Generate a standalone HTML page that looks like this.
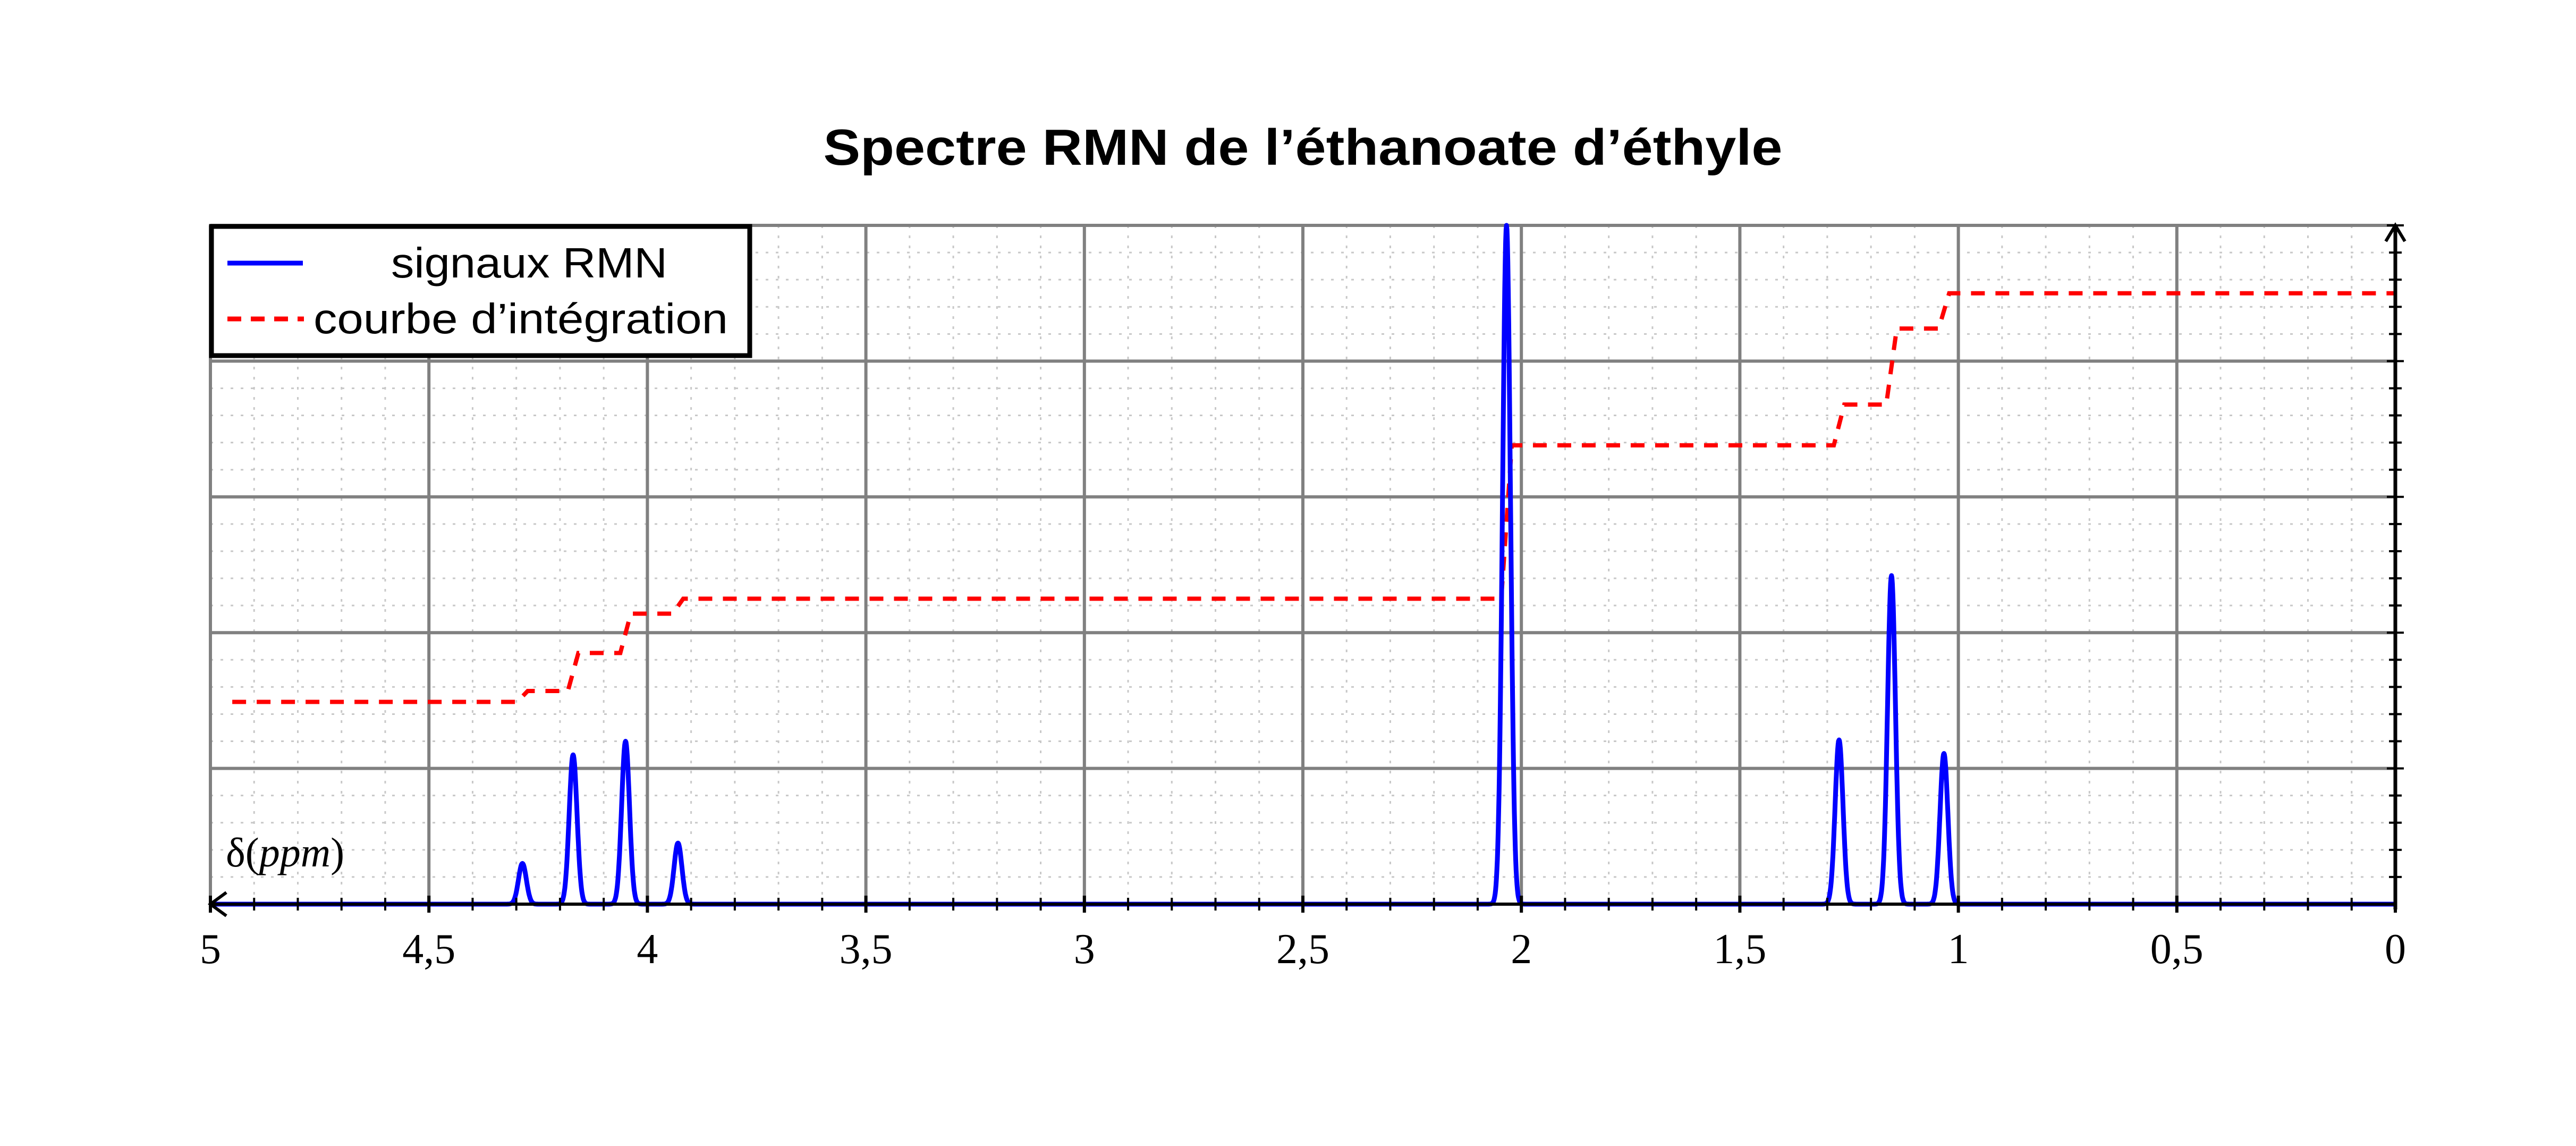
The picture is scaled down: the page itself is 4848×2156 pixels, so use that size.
<!DOCTYPE html>
<html><head><meta charset="utf-8"><style>
html,body{margin:0;padding:0;background:#fff;width:4848px;height:2156px;overflow:hidden}
svg{display:block}
</style></head><body>
<svg id="chart" width="4848" height="2156" viewBox="0 0 4848 2156" xmlns="http://www.w3.org/2000/svg">
<g id="grid"></g>
<g id="series"></g>
<g id="axes"></g>
<text x="2452" y="310" text-anchor="middle" font-family="Liberation Sans, sans-serif" font-weight="bold" font-size="96" textLength="1805" lengthAdjust="spacingAndGlyphs">Spectre RMN de l’éthanoate d’éthyle</text>
<text x="425" y="1630" font-family="Liberation Serif, serif" font-size="78">δ(<tspan font-style="italic">ppm</tspan>)</text>
<g>
<rect x="398" y="426" width="1013" height="243" fill="#fff" stroke="#000" stroke-width="9"/>
<line x1="428" y1="495" x2="570" y2="495" stroke="#0000ff" stroke-width="9"/>
<text x="996" y="522" text-anchor="middle" font-family="Liberation Sans, sans-serif" font-size="80" textLength="520" lengthAdjust="spacingAndGlyphs">signaux RMN</text>
<line x1="428" y1="600" x2="572" y2="600" stroke="#ff0000" stroke-width="9" stroke-dasharray="26,18"/>
<text x="590" y="627" font-family="Liberation Sans, sans-serif" font-size="80" textLength="780" lengthAdjust="spacingAndGlyphs">courbe d’intégration</text>
</g>
</svg>
<script>
// data
const peakPositions = [4.286, 4.17, 4.05, 3.93, 2.034, 1.273, 1.153, 1.033];
const peakHeights = [0.30, 1.10, 1.20, 0.45, 5.0, 1.21, 2.42, 1.11];
const integrationStart = 1.49;
const integrationLevels = [1.57, 1.85, 2.14, 2.25, 3.38, 3.68, 4.24, 4.50];
const xTickValues = [5, 4.5, 4, 3.5, 3, 2.5, 2, 1.5, 1, 0.5, 0];
const xTickLabels = ["5", "4,5", "4", "3,5", "3", "2,5", "2", "1,5", "1", "0,5", "0"];

const NS = "http://www.w3.org/2000/svg";
const L = 396, R = 4508, T = 424, B = 1701;
const xs = v => R - (v / 5) * (R - L);
const ys = v => B - (v / 5) * (B - T);
function mk(tag, attrs, parent) {
  const e = document.createElementNS(NS, tag);
  for (const k in attrs) e.setAttribute(k, attrs[k]);
  parent.appendChild(e);
  return e;
}
const grid = document.getElementById('grid');
const series = document.getElementById('series');
const axes = document.getElementById('axes');

for (let i = 0; i <= 50; i++) {
  if (i % 5 === 0) continue;
  const x = xs(i / 10);
  const l = mk('line', {x1: x, y1: T, x2: x, y2: B, stroke: '#c8c8c8', 'stroke-width': 3, 'stroke-dasharray': '5,14'}, grid);
  
  
}
for (let i = 0; i <= 25; i++) {
  if (i % 5 === 0) continue;
  const y = ys(i / 5);
  const l = mk('line', {x1: L, y1: y, x2: R, y2: y, stroke: '#c8c8c8', 'stroke-width': 3, 'stroke-dasharray': '5,14'}, grid);
  
  
}
for (let i = 0; i <= 10; i++) {
  const x = xs(i / 2);
  const l = mk('line', {x1: x, y1: T, x2: x, y2: B, stroke: '#808080', 'stroke-width': 6}, grid);
  
  
}
for (let i = 0; i <= 5; i++) {
  const y = ys(i);
  const l = mk('line', {x1: L, y1: y, x2: R, y2: y, stroke: '#808080', 'stroke-width': 6}, grid);
  
  
}

const half = 0.012;
let d = `M${xs(4.95)},${ys(integrationStart)}`;
let prev = integrationStart;
for (let i = 0; i < peakPositions.length; i++) {
  const p = peakPositions[i];
  d += ` L${xs(p + half)},${ys(prev)} L${xs(p - half)},${ys(integrationLevels[i])}`;
  prev = integrationLevels[i];
}
d += ` L${xs(0)},${ys(prev)}`;
const integ = mk('path', {d: d, fill: 'none', stroke: '#ff0000', 'stroke-width': 8, 'stroke-dasharray': '26,20'}, series);



const sigma = 0.009;
let pts = [];
for (let v = 5; v >= -0.00001; v -= 0.001) {
  let s = 0;
  for (let i = 0; i < peakPositions.length; i++) {
    const dd = (v - peakPositions[i]) / sigma;
    s += peakHeights[i] * Math.exp(-0.5 * dd * dd);
  }
  pts.push(xs(v).toFixed(1) + ',' + ys(Math.min(s, 5)).toFixed(1));
}
const spec = mk('polyline', {points: pts.join(' '), fill: 'none', stroke: '#0000ff', 'stroke-width': 9, 'stroke-linejoin': 'round'}, series);



const xa = mk('line', {x1: L, y1: B, x2: R, y2: B, stroke: '#000', 'stroke-width': 6}, axes);


const xarr = mk('path', {d: `M${L + 30},${B - 22} L${L},${B} L${L + 30},${B + 22}`, fill: 'none', stroke: '#000', 'stroke-width': 6}, axes);


const ya = mk('line', {x1: R, y1: B + 10, x2: R, y2: T, stroke: '#000', 'stroke-width': 7}, axes);


const yarr = mk('path', {d: `M${R - 18},${T + 30} L${R},${T} L${R + 18},${T + 30}`, fill: 'none', stroke: '#000', 'stroke-width': 6}, axes);


for (let i = 0; i <= 50; i++) {
  const x = xs(i / 10);
  const major = i % 5 === 0;
  const t = mk('line', {x1: x, y1: B - (major ? 16 : 12), x2: x, y2: B + (major ? 16 : 12), stroke: '#000', 'stroke-width': major ? 6 : 4}, axes);
  
  
}
for (let i = 1; i <= 25; i++) {
  const y = ys(i / 5);
  const major = i % 5 === 0;
  const t = mk('line', {x1: R - (major ? 16 : 12), y1: y, x2: R + (major ? 16 : 12), y2: y, stroke: '#000', 'stroke-width': 4}, axes);
  
  
}
for (let i = 0; i < xTickValues.length; i++) {
  const t = mk('text', {x: xs(xTickValues[i]), y: 1812, 'text-anchor': 'middle', 'font-family': 'Liberation Serif, serif', 'font-size': 80}, axes);
  t.textContent = xTickLabels[i];
  
  
}
</script>
</body></html>
